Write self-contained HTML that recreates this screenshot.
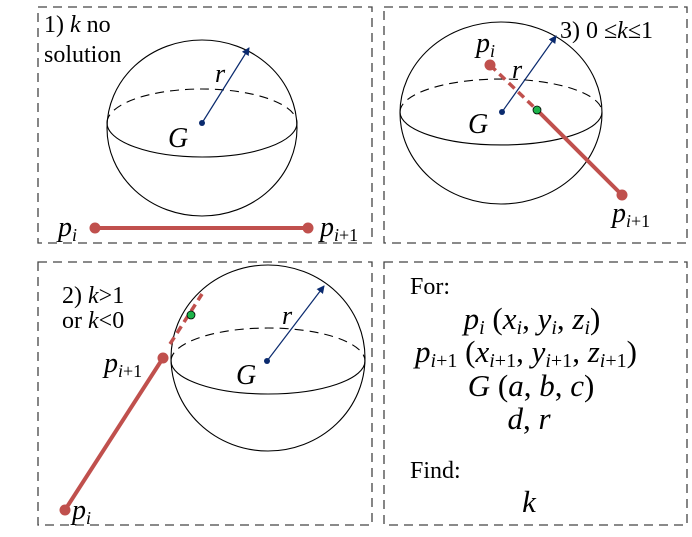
<!DOCTYPE html>
<html><head><meta charset="utf-8"><style>
body{margin:0;background:#fff}
svg text{font-family:"Liberation Serif",serif}
.m{font-style:italic}
</style></head><body>
<svg width="692" height="532" viewBox="0 0 692 532" xmlns="http://www.w3.org/2000/svg">
<g fill="none" stroke="#444" stroke-width="1.3" stroke-dasharray="9,6">
<rect x="38" y="7" width="334" height="236"/>
<rect x="384" y="7" width="303" height="236"/>
<rect x="38" y="262" width="334" height="263"/>
<rect x="384" y="262" width="303" height="263"/>
</g>
<defs><marker id="a" markerWidth="8" markerHeight="8" refX="7" refY="4" orient="auto" markerUnits="userSpaceOnUse"><path d="M0,0 L8,4 L0,8z" fill="#0a2a6e"/></marker></defs>
<!-- sphere 1 -->
<g fill="none" stroke="#000" stroke-width="1.1">
<ellipse cx="202" cy="128" rx="95" ry="88"/>
<path d="M107,123 A95,34 0 0 0 297,123"/>
<path d="M107,123 A95,34 0 0 1 297,123" stroke-dasharray="9,6"/>
</g>
<line x1="202" y1="123" x2="249" y2="48" stroke="#0a2a6e" stroke-width="1.2" marker-end="url(#a)"/>
<circle cx="202" cy="123" r="3" fill="#0a2a6e"/>
<line x1="95" y1="228" x2="308" y2="228" stroke="#c0504d" stroke-width="4"/>
<circle cx="95" cy="228" r="5.5" fill="#c0504d"/><circle cx="308" cy="228" r="5.5" fill="#c0504d"/>
<text x="44" y="32" font-size="24">1) <tspan class="m">k</tspan> no</text>
<text x="44" y="62" font-size="24">solution</text>
<text x="215" y="82" font-size="26" class="m">r</text>
<text x="168" y="147" font-size="28" class="m">G</text>
<text x="58" y="236" font-size="28" class="m">p<tspan font-size="18" dy="5">i</tspan></text>
<text x="320" y="236" font-size="28" class="m">p<tspan font-size="18" dy="5" font-style="normal"><tspan class="m">i</tspan>+1</tspan></text>
<!-- sphere 2 -->
<g fill="none" stroke="#000" stroke-width="1.1">
<ellipse cx="501" cy="113" rx="101" ry="91"/>
<path d="M400,112 A101,33 0 0 0 602,112"/>
<path d="M400,112 A101,33 0 0 1 602,112" stroke-dasharray="9,6"/>
</g>
<line x1="502" y1="112" x2="556" y2="36" stroke="#0a2a6e" stroke-width="1.2" marker-end="url(#a)"/>
<circle cx="502" cy="112" r="3" fill="#0a2a6e"/>
<line x1="490" y1="65" x2="537" y2="110" stroke="#c0504d" stroke-width="3.5" stroke-dasharray="8,5"/>
<line x1="537" y1="110" x2="622" y2="195" stroke="#c0504d" stroke-width="4"/>
<circle cx="490" cy="65" r="5.5" fill="#c0504d"/><circle cx="622" cy="195" r="5.5" fill="#c0504d"/>
<circle cx="537" cy="110" r="4" fill="#1db34a" stroke="#000" stroke-width="0.8"/>
<text x="560" y="38" font-size="24">3) 0 ≤<tspan class="m">k</tspan>≤1</text>
<text x="476" y="52" font-size="28" class="m">p<tspan font-size="18" dy="5">i</tspan></text>
<text x="512" y="78" font-size="26" class="m">r</text>
<text x="468" y="133" font-size="28" class="m">G</text>
<text x="612" y="222" font-size="28" class="m">p<tspan font-size="18" dy="5" font-style="normal"><tspan class="m">i</tspan>+1</tspan></text>
<!-- sphere 3 -->
<g fill="none" stroke="#000" stroke-width="1.1">
<ellipse cx="268" cy="358" rx="97" ry="93"/>
<path d="M171,361 A97,33 0 0 0 365,361"/>
<path d="M171,361 A97,33 0 0 1 365,361" stroke-dasharray="9,6"/>
</g>
<line x1="267" y1="361" x2="324" y2="286" stroke="#0a2a6e" stroke-width="1.2" marker-end="url(#a)"/>
<circle cx="267" cy="361" r="3" fill="#0a2a6e"/>
<line x1="65" y1="510" x2="163" y2="358" stroke="#c0504d" stroke-width="4"/>
<line x1="170" y1="344" x2="202" y2="294" stroke="#c0504d" stroke-width="3.5" stroke-dasharray="8,5"/>
<circle cx="65" cy="510" r="5.5" fill="#c0504d"/><circle cx="163" cy="358" r="5.5" fill="#c0504d"/>
<circle cx="191" cy="315" r="4" fill="#1db34a" stroke="#000" stroke-width="0.8"/>
<text x="62" y="303" font-size="24">2) <tspan class="m">k</tspan>&gt;1</text>
<text x="62" y="328" font-size="24">or <tspan class="m">k</tspan>&lt;0</text>
<text x="282" y="324" font-size="26" class="m">r</text>
<text x="236" y="384" font-size="28" class="m">G</text>
<text x="104" y="372" font-size="28" class="m">p<tspan font-size="18" dy="5" font-style="normal"><tspan class="m">i</tspan>+1</tspan></text>
<text x="72" y="519" font-size="28" class="m">p<tspan font-size="18" dy="5">i</tspan></text>
<!-- info -->
<text x="410" y="294" font-size="24">For:</text>
<text x="532" y="329" font-size="31" text-anchor="middle"><tspan class="m">p<tspan font-size="20" dy="5">i</tspan></tspan><tspan dy="-5"> (</tspan><tspan class="m">x<tspan font-size="20" dy="5">i</tspan></tspan><tspan dy="-5">, </tspan><tspan class="m">y<tspan font-size="20" dy="5">i</tspan></tspan><tspan dy="-5">, </tspan><tspan class="m">z<tspan font-size="20" dy="5">i</tspan></tspan><tspan dy="-5">)</tspan></text>
<text x="526" y="362" font-size="31" text-anchor="middle"><tspan class="m">p</tspan><tspan font-size="20" dy="5"><tspan class="m">i</tspan>+1</tspan><tspan dy="-5"> (</tspan><tspan class="m">x</tspan><tspan font-size="20" dy="5"><tspan class="m">i</tspan>+1</tspan><tspan dy="-5">, </tspan><tspan class="m">y</tspan><tspan font-size="20" dy="5"><tspan class="m">i</tspan>+1</tspan><tspan dy="-5">, </tspan><tspan class="m">z</tspan><tspan font-size="20" dy="5"><tspan class="m">i</tspan>+1</tspan><tspan dy="-5">)</tspan></text>
<text x="531" y="396" font-size="31" text-anchor="middle"><tspan class="m">G</tspan> (<tspan class="m">a</tspan>, <tspan class="m">b</tspan>, <tspan class="m">c</tspan>)</text>
<text x="529" y="429" font-size="31" text-anchor="middle"><tspan class="m">d</tspan>, <tspan class="m">r</tspan></text>
<text x="410" y="478" font-size="24">Find:</text>
<text x="529" y="512" font-size="31" text-anchor="middle" class="m">k</text>
</svg>
</body></html>
